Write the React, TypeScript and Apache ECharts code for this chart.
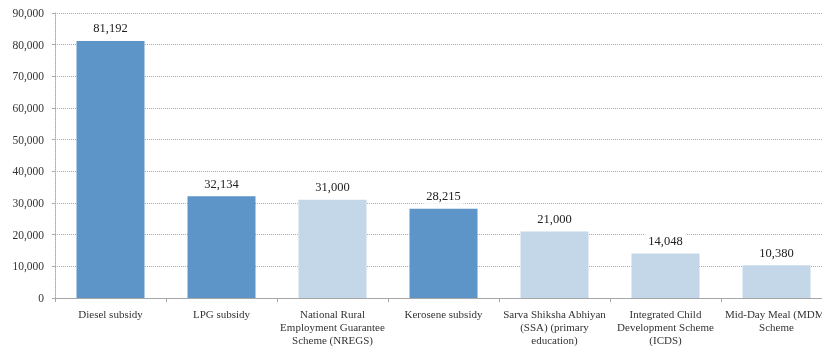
import React, { useEffect, useRef } from "react";
import * as echarts from "echarts";

const categories = [
  "Diesel subsidy",
  "LPG subsidy",
  "National Rural\nEmployment Guarantee\nScheme (NREGS)",
  "Kerosene subsidy",
  "Sarva Shiksha Abhiyan\n(SSA) (primary\neducation)",
  "Integrated Child\nDevelopment Scheme\n(ICDS)",
  "Mid-Day Meal (MDM)\nScheme",
];
const values = [81192, 32134, 31000, 28215, 21000, 14048, 10380];
const isSubsidy = [true, true, false, true, false, false, false];

const DARK = "#5E95C8";
const LIGHT = "#C4D7E8";
const FONT = "'Liberation Serif', 'DejaVu Serif', serif";
const fmt = (v: number) => v.toLocaleString("en-US");

export default function App() {
  const ref = useRef<HTMLDivElement>(null);
  useEffect(() => {
    if (!ref.current) return;
    const chart = echarts.init(ref.current, null, { renderer: "svg" });
    chart.setOption({
      animation: false,
      grid: { left: 55, top: 13, bottom: 49, right: 8 },
      xAxis: {
        type: "category",
        data: categories,
        axisLine: { show: true, lineStyle: { color: "#A6A6A6", width: 1 } },
        axisTick: { show: true, length: 4, lineStyle: { color: "#A6A6A6" } },
        axisLabel: {
          margin: 9,
          interval: 0,
          fontFamily: FONT,
          fontSize: 11,
          color: "#333",
          lineHeight: 13,
        },
      },
      yAxis: {
        type: "value",
        min: 0,
        max: 90000,
        interval: 10000,
        axisLine: { show: true, lineStyle: { color: "#AAAAAA", type: [1, 1] } },
        axisTick: { show: true, length: 3, lineStyle: { color: "#AAAAAA" } },
        splitLine: { show: true, lineStyle: { color: "#AAAAAA", type: [1, 1] } },
        axisLabel: {
          margin: 11,
          fontFamily: FONT,
          fontSize: 11.5,
          color: "#333",
          formatter: (v: number) => fmt(v),
        },
      },
      series: [
        {
          type: "bar",
          barWidth: 68,
          data: values.map((v, i) => ({
            value: v,
            itemStyle: { color: isSubsidy[i] ? DARK : LIGHT },
          })),
          label: {
            show: true,
            position: "top",
            distance: 5,
            fontFamily: FONT,
            fontSize: 12.5,
            color: "#222",
            backgroundColor: "#fff",
            padding: [1, 3],
            formatter: (p: any) => fmt(p.value),
          },
        },
      ],
    });
    return () => chart.dispose();
  }, []);
  return (
    <div
      ref={ref}
      style={{ position: "fixed", left: 0, top: 0, width: 840, height: 347 }}
    />
  );
}
